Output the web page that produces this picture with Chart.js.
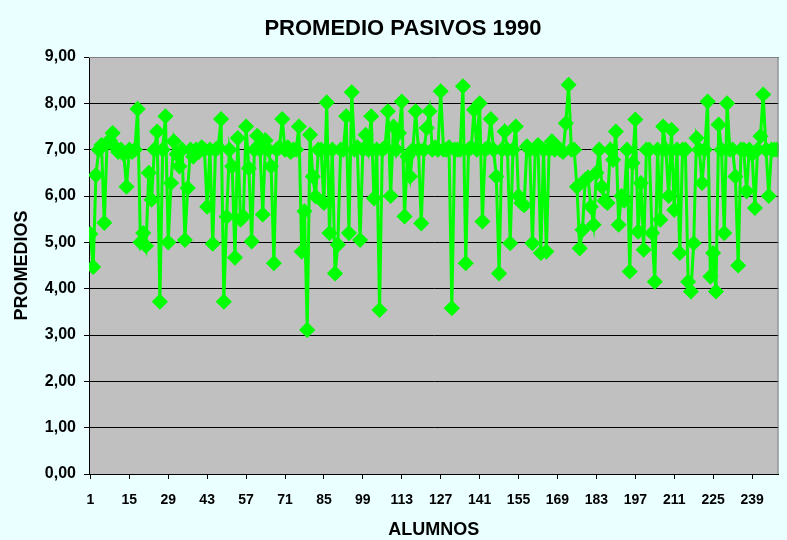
<!DOCTYPE html>
<html>
<head>
<meta charset="utf-8">
<title>PROMEDIO PASIVOS 1990</title>
<script src="https://cdn.jsdelivr.net/npm/chart.js@4/dist/chart.umd.min.js"></script>
<style>
    html, body { margin: 0; padding: 0; background: #ffffff; }
    #wrap { width: 787px; height: 540px; }
</style>
</head>
<body>
<div id="wrap"><canvas id="chart" width="787" height="540"></canvas></div>
<script>
// Promedio de cada alumno (1..248)
const promedios = [
    5.18, 4.47, 6.45, 7.00, 7.10, 5.42, 7.15, 7.20, 7.36, 7.05,
    6.95, 7.00, 6.90, 6.20, 7.00, 6.95, 7.00, 7.88, 5.00, 5.20,
    4.92, 6.50, 5.92, 7.00, 7.39, 3.72, 7.00, 7.72, 5.00, 6.28,
    7.18, 6.90, 6.64, 7.00, 5.05, 6.17, 7.00, 6.85, 7.00, 6.95,
    7.05, 7.00, 5.77, 7.00, 4.97, 7.00, 7.05, 7.66, 3.72, 5.55,
    7.00, 6.64, 4.67, 7.25, 5.49, 5.56, 7.50, 6.60, 5.02, 7.00,
    7.30, 7.00, 5.60, 7.20, 7.00, 6.64, 4.55, 7.00, 7.05, 7.66,
    7.00, 7.05, 6.95, 7.00, 7.00, 7.50, 4.80, 5.67, 3.11, 7.32,
    6.42, 5.99, 7.00, 7.00, 5.85, 8.02, 5.20, 7.00, 4.33, 4.95,
    7.00, 7.00, 7.72, 5.20, 8.24, 7.00, 7.05, 5.05, 7.00, 7.32,
    7.00, 7.72, 5.95, 7.00, 3.54, 7.00, 7.05, 7.83, 6.00, 7.50,
    7.00, 7.36, 8.04, 5.56, 6.85, 6.42, 7.00, 7.83, 7.00, 5.41,
    7.00, 7.47, 7.83, 7.00, 7.05, 7.00, 8.26, 7.00, 7.00, 7.05,
    3.58, 7.00, 7.00, 7.00, 8.37, 4.55, 7.00, 7.05, 7.86, 7.00,
    8.00, 5.45, 7.00, 7.05, 7.66, 7.00, 6.42, 4.33, 7.00, 7.39,
    7.00, 4.98, 7.00, 7.50, 6.00, 5.85, 5.80, 7.07, 7.00, 4.98,
    7.00, 7.10, 4.77, 7.00, 4.80, 7.00, 7.18, 7.00, 7.05, 7.00,
    6.95, 7.57, 8.40, 7.00, 7.00, 6.20, 4.87, 5.27, 6.35, 6.40,
    5.77, 5.38, 6.50, 7.00, 6.20, 5.90, 5.85, 7.00, 6.78, 7.39,
    5.38, 6.00, 5.90, 7.00, 4.37, 6.71, 7.65, 5.23, 6.28, 4.84,
    7.00, 7.00, 5.20, 4.15, 7.00, 5.49, 7.50, 7.00, 6.00, 7.43,
    5.70, 7.00, 4.77, 7.00, 7.00, 4.15, 3.94, 4.98, 7.25, 7.00,
    6.28, 7.00, 8.04, 4.26, 4.77, 3.94, 7.54, 7.00, 5.20, 8.00,
    7.00, 7.00, 6.42, 4.50, 7.00, 7.00, 6.10, 7.00, 6.90, 5.74,
    7.00, 7.29, 8.19, 7.00, 6.00, 7.00, 7.00, 7.00
];

// Numero de alumno para cada punto
const alumnos = promedios.map((_, i) => String(i + 1));

// Etiquetas visibles en el eje X
const xTickLabels = ['1', '15', '29', '43', '57', '71', '85', '99', '113', '127',
    '141', '155', '169', '183', '197', '211', '225', '239'];

const yMin = 0;
const yMax = 9;
const yStep = 1;

const GREEN = '#00ff00';
const FONT = '"Liberation Sans", Arial, sans-serif';
const PAD_LEFT = 24;

// Fondo del grafico y del area de trazado
const plotBackground = {
    id: 'plotBackground',
    beforeDraw(chart) {
        const { ctx, chartArea: a } = chart;
        ctx.save();
        ctx.fillStyle = '#eaffff';
        ctx.fillRect(0, 0, chart.width, chart.height);
        ctx.fillStyle = '#c0c0c0';
        ctx.fillRect(a.left, a.top, a.right - a.left, a.bottom - a.top);
        ctx.restore();
    },
    afterDraw(chart) {
        const { ctx, chartArea: a } = chart;
        ctx.save();
        ctx.strokeStyle = '#808080';
        ctx.lineWidth = 1;
        ctx.beginPath();
        ctx.moveTo(a.left, a.top + 0.5);
        ctx.lineTo(a.right - 0.5, a.top + 0.5);
        ctx.lineTo(a.right - 0.5, a.bottom);
        ctx.stroke();
        ctx.restore();
    }
};

new Chart(document.getElementById('chart'), {
    type: 'line',
    data: {
        labels: alumnos,
        datasets: [{
            label: 'Promedio',
            data: promedios,
            borderColor: GREEN,
            backgroundColor: GREEN,
            borderWidth: 3,
            tension: 0,
            pointStyle: 'rectRot',
            pointRadius: 7,
            pointBorderWidth: 1.5,
            pointBorderColor: GREEN,
            pointBackgroundColor: GREEN,
            clip: 0
        }]
    },
    options: {
        responsive: false,
        animation: false,
        events: [],
        layout: {
            padding: { top: 0, right: 5, bottom: 0, left: PAD_LEFT }
        },
        plugins: {
            legend: { display: false },
            tooltip: { enabled: false },
            title: {
                display: true,
                text: 'PROMEDIO PASIVOS 1990',
                color: '#000000',
                font: { family: FONT, size: 22, weight: 'bold' },
                padding: { top: 16, bottom: 14.6 }
            }
        },
        scales: {
            x: {
                offset: true,
                afterFit(scale) {
                    scale.height = 66;
                    scale.paddingLeft = 0;
                    scale.paddingRight = 0;
                },
                grid: {
                    drawOnChartArea: false,
                    drawTicks: true,
                    tickLength: 5,
                    color: (c) => (c.index % 14 === 0 ? '#000000' : 'rgba(0,0,0,0)')
                },
                border: { display: true, color: '#000000', width: 1 },
                ticks: {
                    autoSkip: false,
                    maxRotation: 0,
                    minRotation: 0,
                    padding: 13,
                    color: '#000000',
                    font: { family: FONT, size: 14, weight: 'bold' },
                    callback: (val, i) => (xTickLabels.includes(alumnos[i]) ? alumnos[i] : '')
                },
                title: {
                    display: true,
                    text: 'ALUMNOS',
                    color: '#000000',
                    font: { family: FONT, size: 18, weight: 'bold' },
                    padding: { top: 0, bottom: -1 }
                }
            },
            y: {
                min: yMin,
                max: yMax,
                afterFit(scale) { scale.width = 89 - PAD_LEFT; },
                grid: {
                    color: '#000000',
                    lineWidth: 1,
                    tickLength: 5
                },
                border: { display: true, color: '#000000', width: 1 },
                ticks: {
                    stepSize: yStep,
                    padding: 8,
                    color: '#000000',
                    font: { family: FONT, size: 16, weight: 'bold' },
                    callback: (v) => v.toFixed(2).replace('.', ',')
                },
                title: {
                    display: true,
                    text: 'PROMEDIOS',
                    color: '#000000',
                    font: { family: FONT, size: 18, weight: 'bold' },
                    padding: { top: -13, bottom: 0 }
                }
            }
        }
    },
    plugins: [plotBackground]
});
</script>
</body>
</html>
